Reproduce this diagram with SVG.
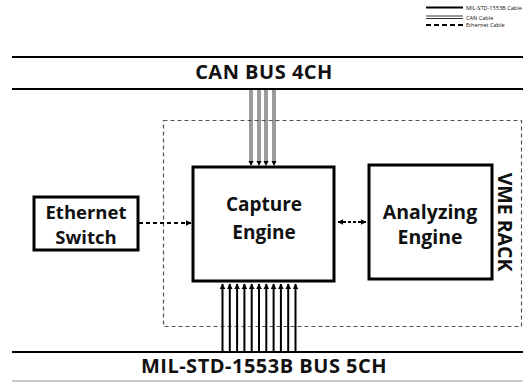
<svg xmlns="http://www.w3.org/2000/svg" width="523" height="382" viewBox="0 0 523 382">
<style>
text{font-family:"Open Sans","Noto Sans","DejaVu Sans",sans-serif;font-weight:bold;fill:#111;text-anchor:middle}
.box{fill:#fff;stroke:#000;stroke-width:3}
.bus{stroke:#000;stroke-width:2}
.eth{stroke:#000;stroke-width:2;stroke-dasharray:4 3;fill:none}
.can{stroke:#222;stroke-width:0.9;fill:none}
.mil{stroke:#000;stroke-width:2;fill:none}
text.leg{font-weight:normal;font-size:5.6px;text-anchor:start}
.big{font-size:20px;letter-spacing:0.5px}
.lbl{font-size:19px}
</style>
<defs>
<marker id="ah" viewBox="0 0 10 10" refX="9" refY="5" markerWidth="6" markerHeight="6" orient="auto" markerUnits="userSpaceOnUse"><path d="M0,0L10,5L0,10z" fill="#000"/></marker>
<marker id="ahs" viewBox="0 0 10 10" refX="9" refY="5" markerWidth="3" markerHeight="3" orient="auto-start-reverse"><path d="M0,0L10,5L0,10z" fill="#000"/></marker>
</defs>
<rect width="523" height="382" fill="#fff"/>
<g id="legend">
<line x1="426" y1="7.5" x2="463" y2="7.5" stroke="#000" stroke-width="2"/>
<line x1="426" y1="16" x2="463" y2="16" stroke="#000" stroke-width="0.8"/>
<line x1="426" y1="18.5" x2="463" y2="18.5" stroke="#000" stroke-width="0.8"/>
<line x1="426" y1="25" x2="463" y2="25" stroke="#000" stroke-width="2" stroke-dasharray="5 3"/>
<text class="leg" x="466" y="10">MIL-STD-1553B Cable</text>
<text class="leg" x="466" y="19.5">CAN Cable</text>
<text class="leg" x="466" y="27">Ethernet Cable</text>
</g>
<g id="can-bus">
<line class="bus" x1="12" y1="57" x2="523" y2="57"/>
<line class="bus" x1="12" y1="89" x2="523" y2="89"/>
<text class="big" x="264" y="79">CAN BUS 4CH</text>
</g>
<g id="mil-bus">
<line class="bus" x1="12" y1="352" x2="523" y2="352"/>
<line x1="12" y1="381" x2="523" y2="381" stroke="#bbb" stroke-width="1.5"/>
<text class="big" x="264" y="373">MIL-STD-1553B BUS 5CH</text>
</g>
<g id="vme-rack">
<rect x="163.5" y="120.5" width="358" height="206" fill="none" stroke="#555" stroke-width="1.2" stroke-dasharray="4 3"/>
<text x="0" y="0" font-size="19.5" transform="translate(498,222) rotate(90)">VME RACK</text>
</g>
<g id="ethernet-switch">
<rect class="box" x="34" y="197" width="104" height="53"/>
<text x="86" y="218.5" font-size="18.5">Ethernet</text>
<text x="86" y="243.5" font-size="18.5">Switch</text>
</g>
<g id="capture-engine">
<rect class="box" x="193" y="167" width="141" height="114"/>
<text class="lbl" x="264" y="211">Capture</text>
<text class="lbl" x="264" y="239">Engine</text>
</g>
<g id="analyzing-engine">
<rect class="box" x="369" y="165" width="123" height="114"/>
<text x="430" y="218.5" font-size="19.5">Analyzing</text>
<text x="430" y="243.5" font-size="19.5">Engine</text>
</g>
<g id="connectors">
<line class="eth" x1="139" y1="223" x2="191" y2="223" marker-end="url(#ahs)"/>
<line class="eth" x1="338" y1="222" x2="366" y2="222" marker-start="url(#ahs)" marker-end="url(#ahs)" style="stroke-dasharray:3 2"/>
<path class="can" d="M250,90V163M252,90V163M258,90V163M260,90V163M265,90V163M267,90V163M273,90V163M275,90V163"/>
<path d="M248.5,161h5l-2.5,5z M256.5,161h5l-2.5,5z M263.5,161h5l-2.5,5z M271.5,161h5l-2.5,5z" fill="#000"/>
<g class="mil">
<line x1="222.5" y1="352" x2="222.5" y2="284" marker-end="url(#ah)"/>
<line x1="229.8" y1="352" x2="229.8" y2="284" marker-end="url(#ah)"/>
<line x1="237.1" y1="352" x2="237.1" y2="284" marker-end="url(#ah)"/>
<line x1="244.4" y1="352" x2="244.4" y2="284" marker-end="url(#ah)"/>
<line x1="251.7" y1="352" x2="251.7" y2="284" marker-end="url(#ah)"/>
<line x1="259" y1="352" x2="259" y2="284" marker-end="url(#ah)"/>
<line x1="266.3" y1="352" x2="266.3" y2="284" marker-end="url(#ah)"/>
<line x1="273.6" y1="352" x2="273.6" y2="284" marker-end="url(#ah)"/>
<line x1="280.9" y1="352" x2="280.9" y2="284" marker-end="url(#ah)"/>
<line x1="288.2" y1="352" x2="288.2" y2="284" marker-end="url(#ah)"/>
<line x1="295.5" y1="352" x2="295.5" y2="284" marker-end="url(#ah)"/>
</g>
</g>
</svg>
